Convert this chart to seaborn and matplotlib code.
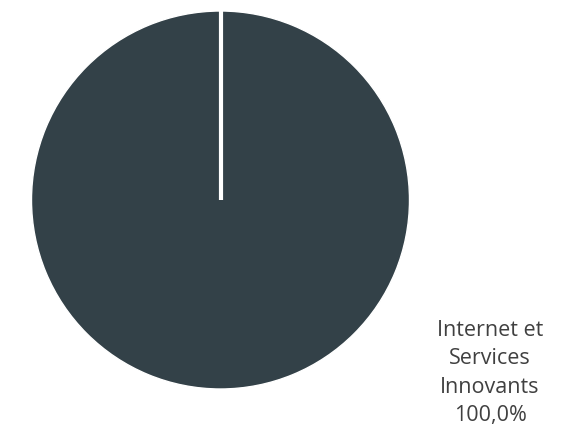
import matplotlib
matplotlib.use("Agg")
import matplotlib.pyplot as plt
import seaborn as sns

categories = ["Internet et\nServices\nInnovants"]
shares = [100.0]
colors = ["#334148"]

sns.set_theme(style="white")
plt.rcParams['font.family'] = ['Open Sans', 'DejaVu Sans']

fig = plt.figure(figsize=(5.8, 4.34), dpi=100)
# pie centred near (220, 200) px with radius ~189 px
ax = fig.add_axes([(220.5 - 189) / 580, (434 - 200 - 189) / 434, 378 / 580, 378 / 434])
ax.pie(shares, colors=colors, startangle=90, counterclock=False,
       wedgeprops=dict(edgecolor="white", linewidth=1))
# single slice: the slice border from centre to the top
ax.plot([0, 0], [0, 1.01], color="white", linewidth=3, solid_capstyle="butt")
ax.set_xlim(-1, 1)
ax.set_ylim(-1, 1)
ax.set_aspect("equal")
ax.axis("off")

for cat, val in zip(categories, shares):
    label = f"{cat}\n{val:.1f}%".replace(".", ",")
    fig.text(490 / 580, 1 - 373 / 434, label, ha="center", va="center",
             fontsize=15.5, color="#404040", linespacing=1.45)

fig.savefig("out.png", dpi=100)
